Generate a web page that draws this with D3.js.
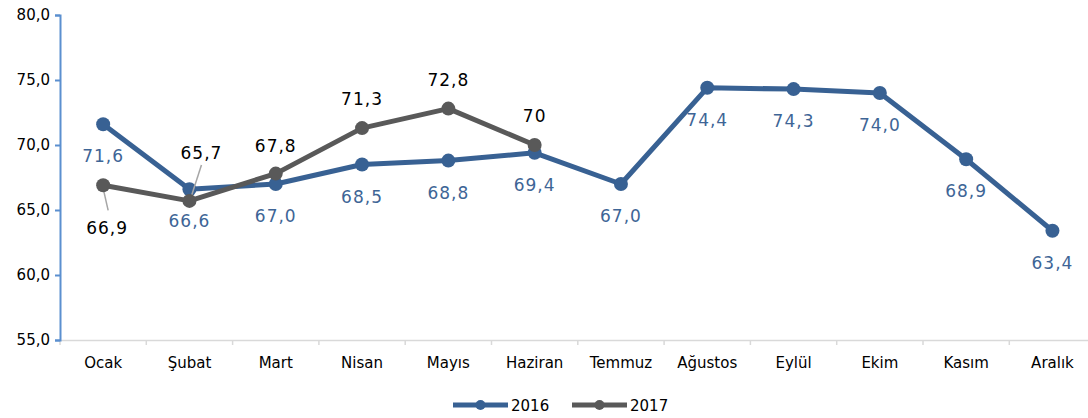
<!DOCTYPE html>
<html>
<head>
<meta charset="utf-8">
<script src="https://cdn.jsdelivr.net/npm/d3@7"></script>
<style>
  body { margin: 0; background: #fff; }
  text { font-family: "DejaVu Sans", Verdana, sans-serif; }
</style>
</head>
<body>
<div id="chart"></div>
<script>
// data
var months = ["Ocak", "Şubat", "Mart", "Nisan", "Mayıs", "Haziran", "Temmuz", "Ağustos", "Eylül", "Ekim", "Kasım", "Aralık"];
var values2016 = [71.6, 66.6, 67.0, 68.5, 68.8, 69.4, 67.0, 74.4, 74.3, 74.0, 68.9, 63.4];
var values2017 = [66.9, 65.7, 67.8, 71.3, 72.8, 70.0];
var labels2017 = ["66,9", "65,7", "67,8", "71,3", "72,8", "70"];
var yTicks = [55, 60, 65, 70, 75, 80];

var width = 1088, height = 418;
var margin = {top: 15, left: 60, bottom: 78};

var svg = d3.select("#chart").append("svg")
    .attr("width", width)
    .attr("height", height);

var x = d3.scaleBand().domain(months).range([margin.left, margin.left + 12 * 86.3]);
var y = d3.scaleLinear().domain([55, 80]).range([height - margin.bottom, margin.top]);

var fmt = function(v) { return v.toFixed(1).replace(".", ","); };

// x axis
var xAxis = svg.append("g")
    .attr("transform", "translate(0," + y(55) + ")")
    .call(d3.axisBottom(x).tickSize(0).tickPadding(17));
xAxis.select(".domain").attr("stroke", "#d9d9d9").attr("stroke-width", 1.5);
xAxis.selectAll("text").attr("font-size", 15).attr("fill", "#000")
    .style("font-family", "'DejaVu Sans', Verdana, sans-serif");
// category separators
xAxis.selectAll(".sep")
    .data(d3.range(13))
    .enter().append("line")
    .attr("x1", function(i) { return margin.left + i * x.step(); })
    .attr("x2", function(i) { return margin.left + i * x.step(); })
    .attr("y1", 0).attr("y2", 5)
    .attr("stroke", "#d9d9d9").attr("stroke-width", 1.5);

// y axis
var yAxis = svg.append("g")
    .attr("transform", "translate(" + margin.left + ",0)")
    .call(d3.axisLeft(y).tickValues(yTicks).tickFormat(fmt).tickSize(5).tickPadding(5));
yAxis.select(".domain").attr("stroke", "#5b8fcf").attr("stroke-width", 2);
yAxis.selectAll(".tick line").attr("stroke", "#5b8fcf").attr("stroke-width", 2);
yAxis.selectAll("text").attr("font-size", 15).attr("fill", "#000")
    .style("font-family", "'DejaVu Sans', Verdana, sans-serif");

var cx = function(d, i) { return x(months[i]) + x.bandwidth() / 2; };
var line = d3.line().x(function(d, i) { return cx(d, i); }).y(function(d) { return y(d); });

var blue = "#386193", gray = "#595959";

// 2016
svg.append("path").datum(values2016)
    .attr("d", line).attr("fill", "none")
    .attr("stroke", blue).attr("stroke-width", 5).attr("stroke-linejoin", "round");
svg.selectAll(".dot16").data(values2016).enter().append("circle")
    .attr("cx", cx).attr("cy", function(d) { return y(d); })
    .attr("r", 7).attr("fill", blue);

// leader lines for 2017 (drawn under markers)
svg.append("line")
    .attr("x1", cx(0, 0)).attr("y1", y(values2017[0]) + 3)
    .attr("x2", cx(0, 0) + 5).attr("y2", y(values2017[0]) + 25)
    .attr("stroke", "#a6a6a6").attr("stroke-width", 1.5);
svg.append("line")
    .attr("x1", cx(0, 1) + 1).attr("y1", y(values2017[1]) - 2)
    .attr("x2", cx(0, 1) + 12).attr("y2", y(values2017[1]) - 36)
    .attr("stroke", "#a6a6a6").attr("stroke-width", 1.5);

// 2017
svg.append("path").datum(values2017)
    .attr("d", line).attr("fill", "none")
    .attr("stroke", gray).attr("stroke-width", 5).attr("stroke-linejoin", "round");
svg.selectAll(".dot17").data(values2017).enter().append("circle")
    .attr("cx", cx).attr("cy", function(d) { return y(d); })
    .attr("r", 7).attr("fill", gray);

// labels 2016 (below points)
svg.selectAll(".lab16").data(values2016).enter().append("text")
    .attr("x", cx).attr("y", function(d) { return y(d) + 38; })
    .attr("text-anchor", "middle").attr("font-size", 17).attr("letter-spacing", 1)
    .attr("fill", "#3e6596")
    .text(fmt);

// labels 2017 (above points, two moved with leader lines)
var off17 = [[4, 49], [12, -42], [0, -22], [0, -23], [0, -23], [0, -23]];
svg.selectAll(".lab17").data(values2017).enter().append("text")
    .attr("x", function(d, i) { return cx(d, i) + off17[i][0]; })
    .attr("y", function(d, i) { return y(d) + off17[i][1]; })
    .attr("text-anchor", "middle").attr("font-size", 17).attr("letter-spacing", 1)
    .attr("fill", "#000")
    .text(function(d, i) { return labels2017[i]; });

// legend
var legend = [{name: "2016", color: blue, x: 453}, {name: "2017", color: gray, x: 572}];
var lg = svg.selectAll(".legend").data(legend).enter().append("g")
    .attr("transform", function(d) { return "translate(" + d.x + ",405)"; });
lg.append("line").attr("x1", 0).attr("x2", 55).attr("y1", 0).attr("y2", 0)
    .attr("stroke", function(d) { return d.color; }).attr("stroke-width", 5);
lg.append("circle").attr("cx", 27.5).attr("cy", 0).attr("r", 5)
    .attr("fill", function(d) { return d.color; });
lg.append("text").attr("x", 58).attr("y", 6).attr("font-size", 15).attr("fill", "#000")
    .text(function(d) { return d.name; });
</script>
</body>
</html>
